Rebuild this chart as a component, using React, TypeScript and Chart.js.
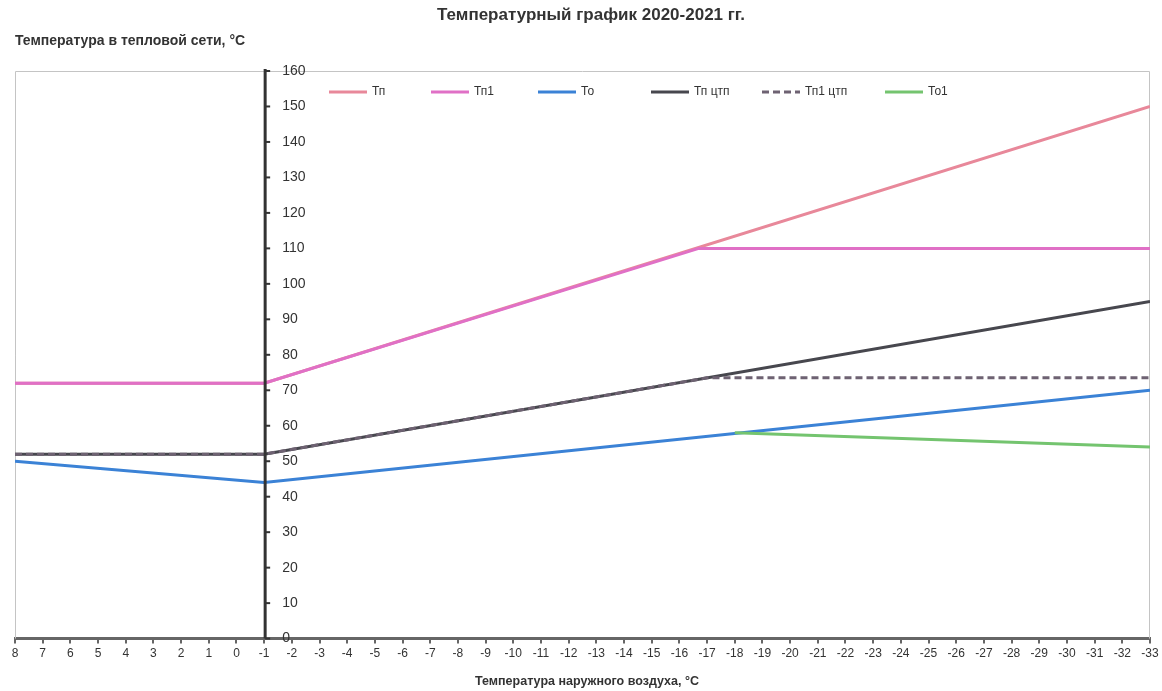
import React, { useEffect, useRef } from "react";
import { Chart, registerables } from "chart.js";
Chart.register(...registerables);

// Outdoor temperature range (x axis, reversed: 8 .. -33)
const xMin = -33;
const xMax = 8;
const yMin = 0;
const yMax = 160;

// Series breakpoints (outdoor temperature -> network temperature)
const tpX = [8, -1, -33];
const tpY = [72, 72, 150];
const tp1X = [8, -1, -16.7, -33];
const tp1Y = [72, 72, 110, 110];
const toX = [8, -1, -33];
const toY = [50, 44, 70];
const tpCtpX = [8, -1, -33];
const tpCtpY = [52, 52, 95];
const tp1CtpX = [8, -1, -17, -33];
const tp1CtpY = [52, 52, 73.5, 73.5];
const to1X = [-18, -33];
const to1Y = [58, 54];

const seriesNames = ["Тп", "Тп1", "То", "Тп цтп", "Тп1 цтп", "То1"];
const seriesColors = ["#E8889A", "#E070C6", "#3B82D6", "#47474E", "#6E6272", "#74C46F"];

const titleText = "Температурный график 2020-2021 гг.";
const yTitleText = "Температура в тепловой сети, °С";
const xTitleText = "Температура наружного воздуха, °С";
const yAxisAt = -1;

const pts = (xs: number[], ys: number[]) => xs.map((x, i) => ({ x, y: ys[i] }));

const FONT = "'Liberation Sans', Arial, sans-serif";

const decorPlugin = {
  id: "decor",
  beforeDatasetsDraw(chart: any) {
    const { ctx, chartArea } = chart;
    ctx.save();
    ctx.strokeStyle = "#c4c4c4";
    ctx.lineWidth = 1;
    ctx.beginPath();
    ctx.moveTo(chartArea.left + 0.5, chartArea.bottom);
    ctx.lineTo(chartArea.left + 0.5, chartArea.top + 0.5);
    ctx.lineTo(chartArea.right - 0.5, chartArea.top + 0.5);
    ctx.lineTo(chartArea.right - 0.5, chartArea.bottom);
    ctx.stroke();
    ctx.restore();
  },
  afterDatasetsDraw(chart: any) {
    const { ctx, chartArea } = chart;
    const xs = chart.scales.x;
    const ys = chart.scales.y;
    const ax = xs.getPixelForValue(yAxisAt) + 1;
    ctx.save();
    ctx.strokeStyle = "#333";
    ctx.lineWidth = 3;
    ctx.beginPath();
    ctx.moveTo(ax, chartArea.top - 2);
    ctx.lineTo(ax, chartArea.bottom);
    ctx.stroke();
    ctx.lineWidth = 2;
    ctx.font = "14px " + FONT;
    ctx.fillStyle = "#333";
    ctx.textAlign = "left";
    ctx.textBaseline = "middle";
    ys.ticks.forEach((t: any) => {
      const py = ys.getPixelForValue(t.value);
      ctx.beginPath();
      ctx.moveTo(ax, py);
      ctx.lineTo(ax + 5, py);
      ctx.stroke();
      ctx.fillText(String(t.value), ax + 17, py);
    });
    ctx.restore();
  },
  afterDraw(chart: any) {
    const { ctx } = chart;
    ctx.save();
    ctx.fillStyle = "#333";
    ctx.textBaseline = "middle";
    ctx.font = "bold 17px " + FONT;
    ctx.textAlign = "center";
    ctx.fillText(titleText, 591, 15);
    ctx.font = "bold 14px " + FONT;
    ctx.textAlign = "left";
    ctx.fillText(yTitleText, 15, 41);
    ctx.font = "bold 12.5px " + FONT;
    ctx.textAlign = "center";
    ctx.fillText(xTitleText, 587, 682);

    // legend
    const legendX = [329, 431, 538, 651, 762, 885];
    const ly = 92;
    ctx.font = "12px " + FONT;
    ctx.textAlign = "left";
    chart.data.datasets.forEach((ds: any, i: number) => {
      const x0 = legendX[i];
      ctx.strokeStyle = ds.borderColor;
      ctx.lineWidth = 3;
      ctx.setLineDash(ds.borderDash || []);
      ctx.beginPath();
      ctx.moveTo(x0, ly);
      ctx.lineTo(x0 + 38, ly);
      ctx.stroke();
      ctx.setLineDash([]);
      ctx.fillStyle = "#333";
      ctx.fillText(ds.label, x0 + 43, ly);
    });
    ctx.restore();
  },
};

export default function App() {
  const ref = useRef<HTMLCanvasElement | null>(null);
  useEffect(() => {
    if (!ref.current) return;
    const data = [
      pts(tpX, tpY),
      pts(tp1X, tp1Y),
      pts(toX, toY),
      pts(tpCtpX, tpCtpY),
      pts(tp1CtpX, tp1CtpY),
      pts(to1X, to1Y),
    ];
    const chart = new Chart(ref.current, {
      type: "line",
      data: {
        datasets: data.map((d, i) => ({
          label: seriesNames[i],
          data: d,
          borderColor: seriesColors[i],
          backgroundColor: seriesColors[i],
          borderWidth: 3,
          borderDash: i === 4 ? [7, 4] : undefined,
          pointRadius: 0,
          tension: 0,
          fill: false,
          order: 10 - i,
        })),
      },
      options: {
        animation: false,
        responsive: false,
        layout: { padding: { top: 71, left: 15, right: 12, bottom: 27 } },
        plugins: { legend: { display: false }, title: { display: false }, tooltip: { enabled: false } },
        scales: {
          x: {
            type: "linear",
            reverse: true,
            min: xMin,
            max: xMax,
            ticks: {
              stepSize: 1,
              autoSkip: false,
              maxRotation: 0,
              color: "#333",
              font: { size: 12, family: FONT },
              padding: 3,
            },
            grid: { drawOnChartArea: false, drawTicks: true, tickLength: 5, color: "#666", lineWidth: 2 },
            border: { display: true, color: "#666", width: 3 },
          },
          y: {
            type: "linear",
            display: false,
            min: yMin,
            max: yMax,
            ticks: { stepSize: 10 },
          },
        },
      },
      plugins: [decorPlugin],
    });
    return () => chart.destroy();
  }, []);
  return (
    <div style={{ position: "fixed", left: 0, top: 0, width: 1162, height: 691, background: "#fff" }}>
      <canvas ref={ref} width={1162} height={691} />
    </div>
  );
}
